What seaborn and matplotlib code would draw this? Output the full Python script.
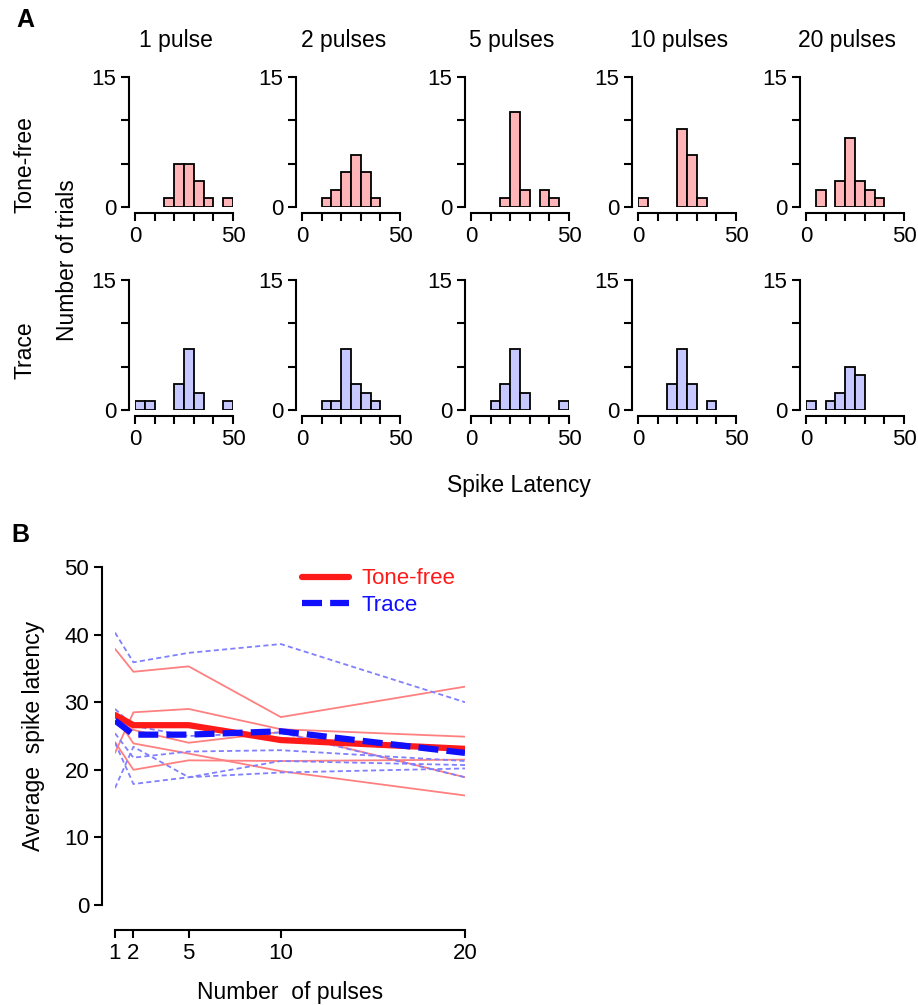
import numpy as np
import pandas as pd
import matplotlib
matplotlib.use("Agg")
import matplotlib.pyplot as plt
import seaborn as sns

# Panel A: spike latency histograms (5 ms bins, 0-50 ms)
bin_edges = [0, 5, 10, 15, 20, 25, 30, 35, 40, 45, 50]
bin_centers = [2.5, 7.5, 12.5, 17.5, 22.5, 27.5, 32.5, 37.5, 42.5, 47.5]
pulse_titles = ["1 pulse", "2 pulses", "5 pulses", "10 pulses", "20 pulses"]

tone_free_counts = [
    [0, 0, 0, 1, 5, 5, 3, 1, 0, 1],
    [0, 0, 1, 2, 4, 6, 4, 1, 0, 0],
    [0, 0, 0, 1, 11, 2, 0, 2, 1, 0],
    [1, 0, 0, 0, 9, 6, 1, 0, 0, 0],
    [0, 2, 0, 3, 8, 3, 2, 1, 0, 0],
]
trace_counts = [
    [1, 1, 0, 0, 3, 7, 2, 0, 0, 1],
    [0, 0, 1, 1, 7, 3, 2, 1, 0, 0],
    [0, 0, 1, 3, 7, 2, 0, 0, 0, 1],
    [0, 0, 0, 3, 7, 3, 0, 1, 0, 0],
    [1, 0, 1, 2, 5, 4, 0, 0, 0, 0],
]

# Panel B: average spike latency per cell vs number of pulses
pulses = [1, 2, 5, 10, 20]
tone_free_cells = [
    [37.9, 34.5, 35.3, 27.8, 32.3],
    [22.5, 28.5, 29.0, 26.0, 24.9],
    [24.1, 20.0, 21.4, 21.3, 21.5],
    [28.0, 23.9, 22.4, 19.8, 16.2],
    [28.0, 25.9, 24.0, 25.6, 18.9],
]
trace_cells = [
    [40.3, 35.9, 37.3, 38.6, 30.0],
    [25.4, 21.8, 22.7, 22.9, 21.3],
    [17.3, 23.4, 18.9, 19.6, 20.2],
    [24.0, 17.9, 18.9, 21.3, 20.7],
    [29.0, 26.5, 25.0, 25.5, 18.9],
]
tone_free_mean = [28.1, 26.6, 26.6, 24.4, 23.1]
trace_mean = [27.3, 25.2, 25.2, 25.7, 22.5]

sns.set_style("ticks")
plt.rcParams['font.family'] = ['Liberation Sans', 'DejaVu Sans']
plt.rcParams['text.color'] = 'black'
plt.rcParams['axes.labelcolor'] = 'black'
plt.rcParams['axes.edgecolor'] = 'black'
plt.rcParams['xtick.color'] = 'black'
plt.rcParams['ytick.color'] = 'black'
plt.rcParams['axes.linewidth'] = 1.5
plt.rcParams['xtick.major.width'] = 1.5
plt.rcParams['ytick.major.width'] = 1.5
plt.rcParams['xtick.major.size'] = 6
plt.rcParams['ytick.major.size'] = 6
plt.rcParams['xtick.labelsize'] = 16
plt.rcParams['ytick.labelsize'] = 16

FS = 16.5
W, H = 918, 1005
fig = plt.figure(figsize=(W / 100, H / 100), dpi=100)

col_x0 = [135, 302, 471, 638, 806]
row_y0 = [207, 410]   # pixel row of y=0
ax_w, ax_h = 98, 130

def draw_hist(ax, counts, color):
    sns.histplot(x=bin_centers, weights=counts, bins=bin_edges, ax=ax,
                 color=color, edgecolor='black', linewidth=1.3, alpha=1)
    for p in ax.patches:
        if p.get_height() == 0:
            p.set_visible(False)
    ax.set_xlim(0, 50)
    ax.set_ylim(0, 15)
    ax.set_xticks([0, 10, 20, 30, 40, 50])
    ax.set_xticklabels(['0', '', '', '', '', '50'])
    ax.set_yticks([0, 5, 10, 15])
    ax.set_yticklabels(['0', '', '', '15'])
    ax.set_xlabel('')
    ax.set_ylabel('')
    sns.despine(ax=ax, offset=4, trim=True)

for r, (counts_set, color) in enumerate([(tone_free_counts, '#FFB5B8'),
                                         (trace_counts, '#C6C8FF')]):
    for c in range(5):
        ax = fig.add_axes([col_x0[c] / W, 1 - row_y0[r] / H, ax_w / W, ax_h / H])
        draw_hist(ax, counts_set[c], color)
        if r == 0:
            ax.text(0.42, (row_y0[0] - 40) / ax_h, pulse_titles[c], transform=ax.transAxes,
                    ha='center', va='center', fontsize=FS)

fig.text(25 / W, 1 - 20 / H, 'A', fontsize=18, fontweight='bold', ha='center', va='center')
fig.text(25 / W, 1 - 165 / H, 'Tone-free', rotation=90, fontsize=FS, ha='center', va='center')
fig.text(25 / W, 1 - 350 / H, 'Trace', rotation=90, fontsize=FS, ha='center', va='center')
fig.text(67 / W, 1 - 260 / H, 'Number of trials', rotation=90, fontsize=FS, ha='center', va='center')
fig.text(519 / W, 1 - 485 / H, 'Spike Latency', fontsize=FS, ha='center', va='center')

# Panel B
fig.text(20 / W, 1 - 535 / H, 'B', fontsize=18, fontweight='bold', ha='center', va='center')
axb = fig.add_axes([115 / W, 1 - 905 / H, 350 / W, 338 / H])

tf_df = pd.DataFrame([(i, p, v) for i, row in enumerate(tone_free_cells)
                      for p, v in zip(pulses, row)], columns=['cell', 'pulses', 'latency'])
tr_df = pd.DataFrame([(i, p, v) for i, row in enumerate(trace_cells)
                      for p, v in zip(pulses, row)], columns=['cell', 'pulses', 'latency'])

sns.lineplot(data=tf_df, x='pulses', y='latency', units='cell', estimator=None,
             color='#FF8080', linewidth=1.3, ax=axb, legend=False)
sns.lineplot(data=tr_df, x='pulses', y='latency', units='cell', estimator=None,
             color='#8080FF', linewidth=1.3, linestyle=(0, (2.8, 1.8)),
             ax=axb, legend=False)
sns.lineplot(x=pulses, y=tone_free_mean, color='#FF1A1A', linewidth=4.5, ax=axb,
             label='Tone-free')
sns.lineplot(x=pulses, y=trace_mean, color='#1010FF', linewidth=4.5,
             linestyle=(0, (3.2, 1.3)), ax=axb, label='Trace')

axb.set_xlim(1, 20)
axb.set_ylim(0, 50)
axb.set_xticks(pulses)
axb.set_yticks([0, 10, 20, 30, 40, 50])
axb.set_xlabel('Number  of pulses', fontsize=FS, labelpad=12)
axb.set_ylabel('Average  spike latency', fontsize=FS, labelpad=14)
sns.despine(ax=axb, offset={'left': 9, 'bottom': 18}, trim=True)

leg = axb.legend(loc='upper left', bbox_to_anchor=(0.478, 1.055), frameon=False,
                 fontsize=16, handlelength=2.1, handletextpad=0.55, labelspacing=0.25)
for txt, col in zip(leg.get_texts(), ['#FF1A1A', '#1010FF']):
    txt.set_color(col)

fig.savefig('out.png', dpi=100)
